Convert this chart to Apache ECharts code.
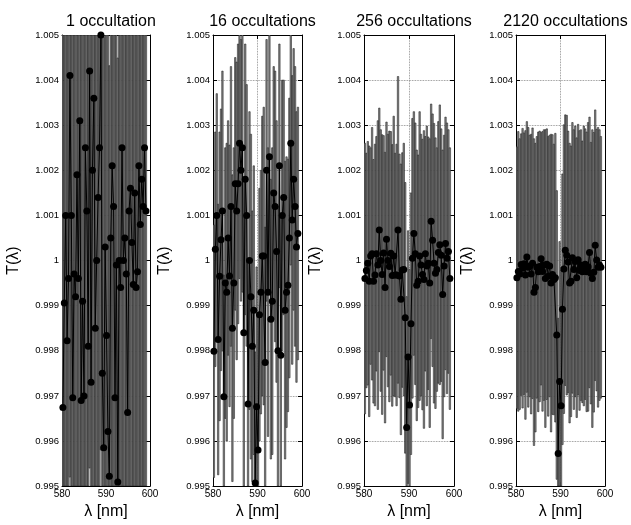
<!DOCTYPE html>
<html>
<head>
<meta charset="utf-8">
<script src="https://cdn.jsdelivr.net/npm/echarts@6/dist/echarts.min.js"></script>
<style>html,body{margin:0;padding:0;background:#fff;}#c{width:631px;height:525px;}</style>
</head>
<body>
<div id="c"></div>
<script>
const wavelength = [580.20,580.52,580.84,581.16,581.48,581.80,582.12,582.44,582.76,583.08,
583.40,583.72,584.04,584.36,584.68,585.00,585.32,585.64,585.96,586.28,
586.60,586.92,587.24,587.56,587.88,588.20,588.52,588.84,589.16,589.48,
589.80,590.12,590.44,590.76,591.08,591.40,591.72,592.04,592.36,592.68,
593.00,593.32,593.64,593.96,594.28,594.60,594.92,595.24,595.56,595.88,
596.20,596.52,596.84,597.16,597.48,597.80,598.12,598.44,598.76,599.08];

const titles = ['1 occultation','16 occultations','256 occultations','2120 occultations'];

const t1 = [0.99674,0.99906,1.0010,0.99822,0.9996,1.0041,1.0010,0.99696,0.9997,0.9992,
1.0019,0.9996,1.0031,0.9969,0.9991,0.9970,1.0025,1.0011,0.9981,1.0042,
0.9973,1.0020,1.0036,0.9985,1.0000,1.0014,1.0025,1.0050,0.9975,0.99585,
1.0003,0.99834,0.99621,0.99522,1.0005,1.0021,1.0012,0.99696,0.9999,0.99509,
1.0000,0.9994,1.0025,1.0000,1.0005,0.9997,0.99663,1.0011,1.0016,1.0004,
0.99947,1.0015,0.99940,0.99975,1.0021,1.0008,1.0018,1.0012,1.0025,1.0011];
const e1 = [0.0092,0.0088,0.0095,0.0090,0.0093,0.0089,0.0091,0.0094,0.0090,0.0092,
0.0088,0.0091,0.0093,0.0090,0.0089,0.0094,0.0092,0.0090,0.0091,0.0088,
0.0093,0.0090,0.0092,0.0089,0.0091,0.0094,0.0090,0.0092,0.0093,0.0091,
0.0090,0.0092,0.0089,0.0091,0.0093,0.0090,0.0092,0.0088,0.0091,0.0094,
0.0090,0.0092,0.0089,0.0091,0.0093,0.0090,0.0092,0.0091,0.0089,0.0093,
0.0090,0.0092,0.0091,0.0088,0.0093,0.0090,0.0092,0.0089,0.0091,0.0090];

const t2 = [0.99799,1.00025,1.0010,0.99825,0.99965,1.00046,1.0011,0.99698,0.9995,0.9993,
1.0005,0.99966,1.0012,0.9985,0.9995,1.0017,1.0011,1.0017,1.0026,1.0020,
1.0025,0.9984,1.0018,1.0010,0.99682,1.0000,0.9992,0.9981,0.9989,0.99507,
0.99676,0.9958,0.9988,0.9993,1.0001,1.0001,0.99774,1.0020,0.9993,1.0023,
0.9987,0.9991,1.0015,1.0012,1.0002,0.9980,1.0021,0.9979,1.0010,1.0014,
0.9989,0.9993,0.99945,1.0005,1.0026,1.0009,1.0018,1.0012,1.0003,1.0006];
const e2 = [0.0028,0.0026,0.0027,0.0030,0.0032,0.0029,0.0031,0.0027,0.0030,0.0033,
0.0026,0.0029,0.0031,0.0034,0.0030,0.0028,0.0033,0.0031,0.0030,0.0029,
0.0032,0.0034,0.0030,0.0029,0.0031,0.0033,0.0036,0.0030,0.0032,0.0029,
0.0031,0.0030,0.0028,0.0027,0.0031,0.0033,0.0030,0.0029,0.0032,0.0030,
0.0031,0.0034,0.0028,0.0030,0.0029,0.0032,0.0027,0.0031,0.0030,0.0026,
0.0033,0.0030,0.0028,0.0031,0.0027,0.0032,0.0029,0.0031,0.0030,0.0028];

const t3 = [0.99960,0.99978,0.99994,0.99954,1.00010,1.00015,0.99954,0.99968,1.00015,0.99990,
1.00068,1.00000,0.99969,1.00017,0.99940,1.00047,1.00000,0.99987,1.00016,0.99967,
1.00010,0.99968,0.99968,1.00068,0.99966,0.99914,0.99979,0.99980,0.99873,0.99630,
0.99786,0.99680,0.99860,1.00005,1.00060,1.00015,0.99945,0.99954,1.00010,0.99990,
0.99969,0.99958,1.00015,0.99988,0.99994,0.99950,1.00087,1.00045,0.99994,0.99972,
0.99980,1.00018,1.00035,1.00012,0.99925,0.99988,1.00038,1.00005,1.00020,0.99960];
const e3 = [0.0030,0.0026,0.0027,0.0030,0.0024,0.0028,0.0027,0.0029,0.0026,0.0032,
0.0027,0.0029,0.0031,0.0026,0.0030,0.0026,0.0028,0.0030,0.0027,0.0029,
0.0031,0.0027,0.0029,0.0034,0.0027,0.0030,0.0026,0.0028,0.0030,0.0029,
0.0028,0.0030,0.0029,0.0031,0.0027,0.0029,0.0030,0.0028,0.0032,0.0029,
0.0030,0.0033,0.0026,0.0031,0.0028,0.0032,0.0026,0.0028,0.0031,0.0030,
0.0027,0.0029,0.0031,0.0028,0.0032,0.0029,0.0028,0.0030,0.0027,0.0029];

const t4 = [0.99962,0.99976,0.99970,0.99991,0.99983,0.99993,0.99968,1.00008,0.99985,0.99988,
0.99970,0.99994,0.99930,0.99940,0.99985,0.99975,0.99987,1.00004,0.99976,0.99990,
0.99960,0.99992,0.99965,0.99988,0.99950,0.99969,0.99958,0.99962,0.99835,0.99572,
0.99732,0.99678,0.99892,0.99981,1.00023,1.00012,0.99997,0.99950,0.99954,1.00006,
0.99980,0.99998,0.99962,1.00002,0.99978,0.99990,0.99975,0.99988,0.99992,0.99975,
0.99986,1.00018,0.99972,0.99960,0.99974,1.00034,1.00001,0.99985,0.99990,0.99985];
const e4 = [0.0029,0.0031,0.0030,0.0029,0.0031,0.0029,0.0032,0.0030,0.0031,0.0029,
0.0031,0.0030,0.0034,0.0032,0.0029,0.0031,0.0030,0.0028,0.0031,0.0030,
0.0033,0.0030,0.0031,0.0029,0.0033,0.0031,0.0030,0.0032,0.0032,0.0030,
0.0031,0.0030,0.0030,0.0032,0.0030,0.0031,0.0029,0.0031,0.0030,0.0030,
0.0031,0.0030,0.0031,0.0030,0.0031,0.0030,0.0029,0.0031,0.0030,0.0031,
0.0032,0.0030,0.0029,0.0033,0.0031,0.0030,0.0029,0.0031,0.0030,0.0029];

const values = [t1, t2, t3, t4];
const errors = [e1, e2, e3, e4];

const X_MIN = 580, X_MAX = 600, X_STEP = 10;
const Y_MIN = 0.995, Y_MAX = 1.005, Y_STEP = 0.001;
const BIN = 0.32;

const lefts = [62, 213, 364, 516];
const widths = [88, 89, 90, 89];
const TOP = 35, HEIGHT = 457;
const FONT = '"Liberation Sans", Arial, Helvetica, sans-serif';

const grids = [], xAxes = [], yAxes = [], series = [], titleOpts = [];

function renderBar(params, api) {
  const x = api.value(0), y = api.value(1), e = api.value(2);
  const lo = Math.max(y - e, Y_MIN), hi = Math.min(y + e, Y_MAX);
  const p1 = api.coord([x, hi]), p2 = api.coord([x, lo]);
  const w = api.size([BIN, 0])[0];
  return {
    type: 'rect',
    shape: { x: p1[0] - w / 2, y: p1[1], width: w, height: p2[1] - p1[1] },
    style: { fill: '#878787', stroke: '#1e1e1e', lineWidth: 0.55 }
  };
}

for (let k = 0; k < 4; k++) {
  grids.push({ left: lefts[k], top: TOP, width: widths[k], height: HEIGHT, containLabel: false });
  titleOpts.push({
    text: titles[k], left: lefts[k] + widths[k] / 2, top: 9, textAlign: 'center',
    textStyle: { fontFamily: FONT, fontSize: 16, fontWeight: 'normal', color: '#000' }
  });
  const tick = { show: true, inside: true, length: 4, lineStyle: { color: '#000', width: 1 } };
  const line = { show: true, lineStyle: { color: '#000', width: 1 } };
  xAxes.push({
    gridIndex: k, type: 'value', position: 'bottom', min: X_MIN, max: X_MAX, interval: X_STEP,
    axisLine: line, axisTick: tick,
    axisLabel: { fontFamily: FONT, fontSize: 10, color: '#000', margin: 3 },
    splitLine: { show: true, lineStyle: { type: 'dotted', color: '#777', width: 0.8 } },
    name: 'λ [nm]', nameLocation: 'middle', nameGap: 15,
    nameTextStyle: { fontFamily: FONT, fontSize: 16, color: '#000' }
  });
  xAxes.push({
    gridIndex: k, type: 'value', position: 'top', min: X_MIN, max: X_MAX, interval: X_STEP,
    axisLine: line, axisTick: tick, axisLabel: { show: false }, splitLine: { show: false }
  });
  yAxes.push({
    gridIndex: k, type: 'value', position: 'left', min: Y_MIN, max: Y_MAX, interval: Y_STEP,
    axisLine: line, axisTick: tick,
    axisLabel: { fontFamily: FONT, fontSize: 9.5, color: '#000', margin: 3,
      formatter: v => String(parseFloat(v.toFixed(3))) },
    splitLine: { show: true, lineStyle: { type: 'dotted', color: '#777', width: 0.8 } },
    name: 'T(λ)', nameLocation: 'middle', nameGap: 40, nameRotate: 90,
    nameTextStyle: { fontFamily: FONT, fontSize: 16, color: '#000' }
  });
  yAxes.push({
    gridIndex: k, type: 'value', position: 'right', min: Y_MIN, max: Y_MAX, interval: Y_STEP,
    axisLine: line, axisTick: tick, axisLabel: { show: false }, splitLine: { show: false }
  });
  series.push({
    type: 'custom', xAxisIndex: 2 * k, yAxisIndex: 2 * k, clip: true, silent: true,
    renderItem: renderBar,
    encode: { x: 0, y: 1 },
    data: wavelength.map((x, i) => [x, values[k][i], errors[k][i]]),
    z: 2
  });
  series.push({
    type: 'line', xAxisIndex: 2 * k, yAxisIndex: 2 * k, clip: true, silent: true,
    data: wavelength.map((x, i) => [x, values[k][i]]),
    symbol: 'circle', symbolSize: 7, showSymbol: true,
    itemStyle: { color: '#000' }, lineStyle: { color: '#000', width: 1 },
    animation: false, z: 3
  });
}

const chart = echarts.init(document.getElementById('c'), null, { renderer: 'canvas' });
chart.setOption({
  backgroundColor: '#fff',
  animation: false,
  title: titleOpts,
  grid: grids,
  xAxis: xAxes,
  yAxis: yAxes,
  series: series
});
</script>
</body>
</html>
